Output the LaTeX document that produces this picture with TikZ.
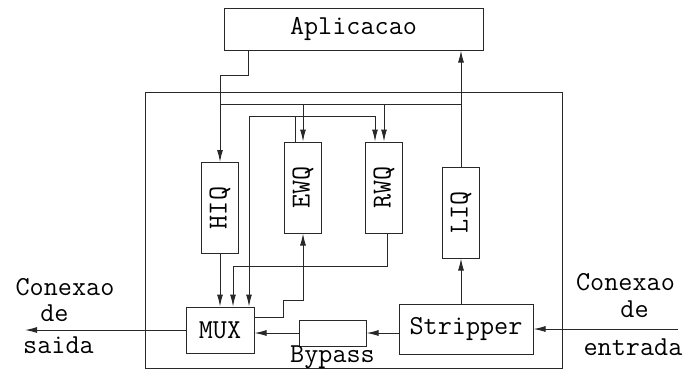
\documentclass[tikz,border=0pt]{standalone}
\usepackage{fontspec}
\usetikzlibrary{arrows.meta, positioning}
\definecolor{linegray}{RGB}{40,40,40}

\begin{document}
\begin{tikzpicture}[
		x=0.5pt, y=-0.5pt,
		box/.style={draw=linegray, line width=0.5pt, inner sep=0pt,
			font=\ttfamily\fontsize{13.7}{15}\selectfont},
		queue/.style={box, minimum width=18.5pt, minimum height=45.5pt},
		lbl/.style={anchor=base, inner sep=0pt, font=\ttfamily\fontsize{13.7}{15}\selectfont},
		wire/.style={line width=0.5pt, draw=linegray},
		arrow/.style={-{Latex[length=6pt, width=3pt]}, line width=0.5pt, draw=linegray}
	]
		\useasboundingbox (0,0) rectangle (686,372);
		\node[box, minimum width=129.5pt, minimum height=21pt] (app) at (353.5,29) {Aplicacao};
		\draw[wire] (145,92) rectangle (562,368);

		\node[queue] (hiq) at (220,208) {\rotatebox{90}{HIQ}};
		\node[queue] (ewq) at (303,187.5) {\rotatebox{90}{EWQ}};
		\node[queue] (rwq) at (384,187.5) {\rotatebox{90}{RWQ}};
		\node[queue] (liq) at (461,212.5) {\rotatebox{90}{LIQ}};

		\node[box, minimum width=34pt, minimum height=23pt] (mux) at (220,330) {MUX};
		\node[box, minimum width=33.5pt, minimum height=13pt] (byp) at (332.5,333) {};
		\node[lbl] (bypl) at (332.5,362) {Bypass};
		\node[box, minimum width=67pt, minimum height=25pt] (strip) at (466,329) {Stripper};

		\node[lbl] (outa) at (65,295.5) {Conexao};
		\node[lbl] (outb) at (54.5,321) {de};
		\node[lbl] (outc) at (58.5,353) {saida};
		\node[lbl] (ina) at (625.5,290) {Conexao};
		\node[lbl] (inb) at (634.5,317) {de};
		\node[lbl] (inc) at (633,355) {entrada};

		\coordinate (out) at (25,330);
		\coordinate (in) at (678,329);
		\coordinate (bus) at (220,104);

		% aplicacao para as filas
		\draw[arrow] ([xshift=12.5pt]app.south west) -- ++(0,25) -| (hiq.north);
		\draw[wire] (bus) -- (bus -| liq.north);
		\draw[arrow] (bus -| ewq.north) -- (ewq.north);
		\draw[arrow] (bus -| rwq.north) -- (rwq.north);
		\draw[arrow] ([xshift=-4pt]ewq.north) -- ++(0,-25) coordinate (fb) -| ([xshift=-4.5pt]rwq.north);
		\draw[arrow] (fb) -| ([xshift=14.5pt]mux.north);

		% filas para o mux
		\draw[arrow] ([xshift=1.5pt]rwq.south) -- ++(0,33) -| ([xshift=6.5pt]mux.north);
		\draw[arrow] ([yshift=6.5pt]mux.east) -- ++(29,0) -- ++(0,-17) -| (ewq.south);
		\draw[arrow] (strip.west |- byp.east) -- (byp.east);
		\draw[arrow] (byp.west) -- (mux.east |- byp.west);
		\draw[arrow] (strip.north -| liq.south) -- (liq.south);
		\draw[arrow] (liq.north) -- (liq.north |- app.south);

		\foreach \a/\b in {hiq.south/mux.north,mux.west/out,in/strip.east}
			\draw[arrow] (\a) -- (\b);
	\end{tikzpicture}
\end{document}
